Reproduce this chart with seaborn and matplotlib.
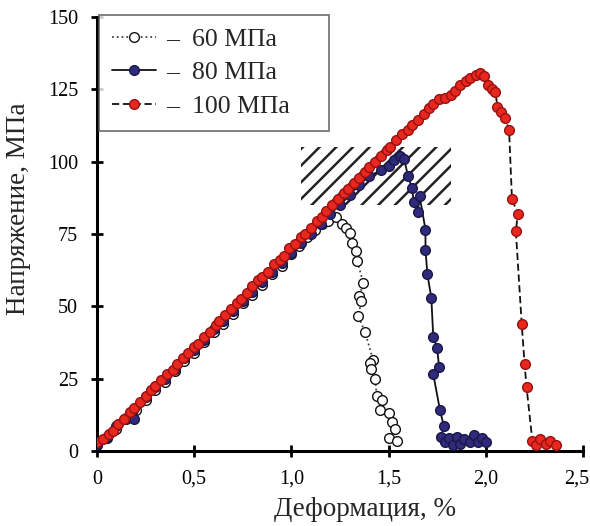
import matplotlib
matplotlib.use("Agg")
import matplotlib.pyplot as plt
from matplotlib.patches import Rectangle
from matplotlib.ticker import FuncFormatter
from matplotlib.transforms import ScaledTranslation
import seaborn as sns

# Stress-strain curves at three confining pressures
strain_60 = [0.00, 0.05, 0.10, 0.15, 0.20, 0.25, 0.30, 0.35, 0.40, 0.45, 0.50,
             0.55, 0.60, 0.65, 0.70, 0.75, 0.80, 0.85, 0.90, 0.95, 1.00, 1.04,
             1.08, 1.12, 1.16, 1.19, 1.23, 1.26, 1.28, 1.30, 1.31, 1.33, 1.34,
             1.37, 1.35, 1.36, 1.345, 1.38, 1.42, 1.405, 1.41, 1.43, 1.44,
             1.465, 1.455, 1.50, 1.52, 1.535, 1.50, 1.545]
stress_60 = [2.0, 4.5, 7.5, 11.0, 14.0, 17.5, 21.0, 24.0, 27.5, 31.0, 34.0,
             37.5, 41.0, 44.0, 47.5, 51.0, 54.0, 57.5, 61.0, 64.0, 68.0, 71.0,
             74.0, 76.5, 78.5, 79.5, 81.0, 78.5, 77.0, 75.5, 72.0, 69.0, 65.5,
             58.0, 53.5, 52.0, 46.5, 41.0, 31.5, 30.5, 28.5, 25.0, 19.0,
             17.5, 14.0, 13.0, 10.0, 7.5, 4.5, 3.5]

strain_80 = [0.00, 0.05, 0.10, 0.15, 0.19, 0.25, 0.30, 0.35, 0.40, 0.45, 0.50,
             0.55, 0.60, 0.65, 0.70, 0.75, 0.80, 0.85, 0.90, 0.95, 1.00, 1.05,
             1.10, 1.15, 1.20, 1.25, 1.30, 1.35, 1.40, 1.46, 1.50, 1.53, 1.56,
             1.58, 1.60, 1.62, 1.63, 1.65, 1.66, 1.69, 1.69, 1.70, 1.72, 1.73,
             1.75, 1.76, 1.73, 1.765, 1.785, 1.77, 1.79, 1.81, 1.83, 1.85,
             1.87, 1.89, 1.92, 1.94, 1.96, 1.98, 2.00]
stress_80 = [2.5, 5.0, 8.5, 11.5, 11.0, 18.5, 22.0, 25.0, 28.5, 32.0, 35.0,
             38.5, 42.0, 45.0, 48.5, 52.0, 55.0, 58.5, 62.0, 65.0, 68.5, 72.0,
             75.0, 78.5, 82.0, 85.0, 88.5, 92.0, 95.0, 97.0, 98.5, 100.5, 102.0,
             101.0, 95.0, 91.0, 86.0, 82.5, 88.0, 76.5, 69.5, 61.0, 53.0, 39.5,
             35.5, 29.0, 26.5, 14.0, 8.5, 5.0, 3.0, 4.5, 2.0, 5.0,
             2.5, 4.0, 3.0, 5.5, 3.0, 4.5, 3.0]

strain_100 = [0.00, 0.03, 0.06, 0.08, 0.11, 0.14, 0.17, 0.19, 0.22, 0.25, 0.28,
              0.30, 0.33, 0.36, 0.39, 0.41, 0.44, 0.47, 0.50, 0.52, 0.55, 0.58,
              0.61, 0.63, 0.66, 0.69, 0.72, 0.74, 0.77, 0.80, 0.83, 0.85, 0.88,
              0.91, 0.94, 0.96, 0.99, 1.02, 1.05, 1.07, 1.10, 1.13, 1.16, 1.18,
              1.21, 1.24, 1.27, 1.29, 1.32, 1.35, 1.38, 1.40, 1.43, 1.46, 1.49,
              1.51, 1.54, 1.57, 1.60, 1.62, 1.65, 1.68, 1.71, 1.73, 1.76, 1.79,
              1.82, 1.84, 1.87, 1.90, 1.92, 1.95, 1.97, 1.99, 2.01, 2.03, 2.05,
              2.06, 2.08, 2.10, 2.12, 2.135, 2.165, 2.155, 2.185, 2.20, 2.21,
              2.24, 2.26, 2.28, 2.31, 2.33, 2.36]
stress_100 = [3.0, 4.0, 6.0, 7.0, 9.5, 11.0, 13.5, 15.0, 17.0, 19.0, 21.0,
              22.5, 24.5, 26.5, 28.0, 30.0, 32.0, 34.0, 36.0, 37.0, 39.5, 41.0,
              43.5, 45.0, 47.0, 49.0, 51.0, 52.5, 54.5, 57.0, 59.0, 60.0, 62.0,
              64.5, 66.0, 67.5, 70.0, 71.5, 74.0, 75.0, 77.0, 79.5, 81.0, 83.0,
              85.0, 87.0, 89.0, 90.5, 92.5, 94.5, 96.5, 98.0, 100.0, 102.0, 104.0,
              105.0, 107.5, 109.5, 111.0, 112.5, 114.5, 116.5, 118.5, 120.0, 121.5, 122.0,
              123.0, 124.5, 126.5, 128.0, 129.0, 130.0, 130.5, 129.5, 126.5, 125.0, 124.0,
              119.0, 117.0, 115.0, 111.0, 87.0, 82.0, 76.0, 44.0, 30.0, 22.0,
              3.5, 2.0, 4.0, 2.5, 3.5, 2.0]

labels = ["–  60 МПа      ", "–  80 МПа      ", "–  100 МПа    "]
x_ticks = [0.0, 0.5, 1.0, 1.5, 2.0, 2.5]
y_ticks = [0, 25, 50, 75, 100, 125, 150]

sns.set_style("ticks")
plt.rcParams["font.family"] = ["Liberation Serif", "DejaVu Serif"]
plt.rcParams["hatch.linewidth"] = 1.8

fig = plt.figure(figsize=(5.9, 5.26), dpi=100)
ax = fig.add_axes([0.1644, 0.1426, 0.8236, 0.8251])

# hatched zone of the peak stresses
ax.add_patch(Rectangle((1.05, 85), 0.77, 20, hatch="//", fill=False,
                       edgecolor="#222222", linewidth=0, zorder=1))

sns.lineplot(x=strain_60, y=stress_60, sort=False, estimator=None, ax=ax,
             color="#444444", linestyle=":", linewidth=1.3, marker="o",
             markersize=7, markerfacecolor="white", markeredgecolor="#111111",
             markeredgewidth=1.0, label=labels[0], zorder=2)
sns.lineplot(x=strain_80, y=stress_80, sort=False, estimator=None, ax=ax,
             color="#111111", linestyle="-", linewidth=1.3, marker="o",
             markersize=7, markerfacecolor="#2f2a7a", markeredgecolor="#1a1748",
             markeredgewidth=1.0, label=labels[1], zorder=3)
sns.lineplot(x=strain_100, y=stress_100, sort=False, estimator=None, ax=ax,
             color="#111111", linestyle=(0, (4, 2)), linewidth=1.3, marker="o",
             markersize=7, markerfacecolor="#e8281e", markeredgecolor="#9a1010",
             markeredgewidth=1.0, label=labels[2], zorder=4)

ax.set_xlim(0, 2.5)
ax.set_ylim(0, 150)
ax.set_xticks(x_ticks)
ax.set_yticks(y_ticks)
ax.xaxis.set_major_formatter(FuncFormatter(
    lambda v, p: "0" if v == 0 else f"{v:.1f}".replace(".", ",")))
ax.tick_params(direction="inout", length=9, width=2, labelsize=14.5,
               colors="black", pad=9)
for side in ("top", "right"):
    ax.spines[side].set_visible(False)
for side in ("left", "bottom"):
    ax.spines[side].set_linewidth(2.2)
    ax.spines[side].set_color("black")

# keep the last strain label inside the figure edge
last = ax.get_xticklabels()[-1]
last.set_horizontalalignment("right")
last.set_transform(last.get_transform() + ScaledTranslation(0.065, 0, fig.dpi_scale_trans))

ax.set_xlabel("Деформация, %", fontsize=19.5)
ax.set_ylabel("Напряжение, МПа", fontsize=19.5)
ax.xaxis.set_label_coords(0.551, -0.105)
ax.yaxis.set_label_coords(-0.136, 0.558)

leg = ax.legend(loc="upper left", bbox_to_anchor=(0.005, 1.005),
                borderaxespad=0, fancybox=False, frameon=True, fontsize=18.5,
                handlelength=1.7, handletextpad=0.4, labelspacing=0.42,
                borderpad=0.5)
leg.get_frame().set_edgecolor("#555555")
leg.get_frame().set_linewidth(1.3)

fig.savefig("out.png", dpi=100)
